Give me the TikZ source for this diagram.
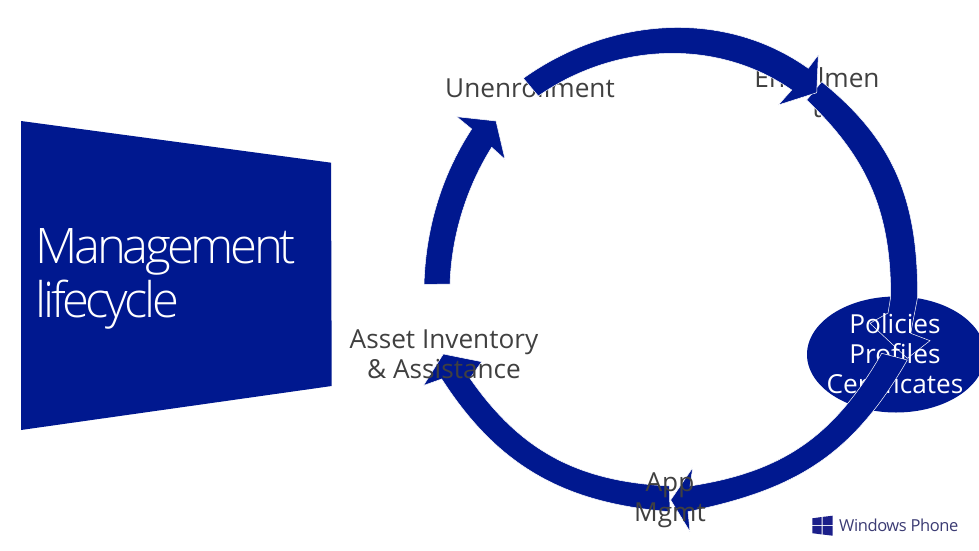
\documentclass[tikz,border=0pt]{standalone}
\usepackage{fontspec}
\setmainfont{Open Sans}
\newfontfamily\titlefont[LetterSpace=-7]{Open Sans Light}
\newfontfamily\wpfont[LetterSpace=-2.5]{Open Sans}
\definecolor{wpnavy}{HTML}{00188F}
\definecolor{labelgray}{HTML}{404040}
\definecolor{logoblue}{HTML}{1B1F8A}
\definecolor{logotext}{HTML}{3B3B73}
\tikzset{
  ringarrow/.style={fill=wpnavy,draw=white,line width=0.5pt,line join=miter},
  ringlabel/.style={text=labelgray,align=center,inner sep=0pt,font=\fontsize{26.2}{30}\selectfont},
  whitelabel/.style={text=white,align=center,inner sep=0pt,font=\fontsize{26.2}{30}\selectfont},
  titletext/.style={text=white,align=left,inner sep=0pt,anchor=west,font=\titlefont\fontsize{49}{54.5}\selectfont}
}
\begin{document}
\begin{tikzpicture}[x=1pt,y=-1pt]
\useasboundingbox (0,0) rectangle (979,551);
% title panel
\fill[wpnavy] (21,121) -- (331,162.7) -- (331.7,386) -- (21,430) -- cycle;
\node[titletext] (title) at (35.5,279) {Management\\lifecycle};
% labels lying under the arrows
\node[ringlabel] (unenroll) at (530,88) {Unenrollment};
\node[ringlabel] (enroll) at (817,93) {Enrollmen\\t};
% policies ellipse
\fill[wpnavy] (896,354.5) ellipse [x radius=89,y radius=-58];
% left arc
\path[ringarrow] (424,284.5) .. controls (425.6,229.5) and (441,176) .. (471.7,129)
  -- (456.7,116.7) -- (496,121) -- (505,159.3) -- (491.7,147.3)
  .. controls (466.3,188) and (451.5,236) .. (450,284) -- cycle;
% right arc
\path[ringarrow] (821.7,81.7) .. controls (895.8,141.5) and (917.7,201.7) .. (917.7,296.7)
  -- (910.7,333.3) -- (930,340.7) -- (907.3,358.3) -- (870,323.3) -- (888,313) -- (890.7,296.7)
  .. controls (890.7,211.7) and (867.9,158.7) .. (806.7,100) -- cycle;
% top arc
\path[ringarrow] (523.3,78.3) .. controls (608,17.6) and (723,7.6) .. (808.3,68.3)
  -- (818.3,55) -- (816.7,92.7) -- (778.3,105) -- (791.7,90)
  .. controls (715.9,37.3) and (614,43.3) .. (538.3,96) -- cycle;
% text of the ellipse lies over the right arc, under the lower-right arc
\node[whitelabel] (policies) at (895,354) {Policies\\Profiles\\Certificates};
% lower-right arc
\path[ringarrow] (907.3,360) .. controls (852.3,455.7) and (795.8,489.7) .. (688,511.7)
  -- (690,531.7) -- (670.7,500) -- (692.7,467.7) -- (690,486)
  .. controls (783.1,471.8) and (834.2,436) .. (881.7,353.3) -- cycle;
% lower-left arc
\path[ringarrow] (670,511.7) .. controls (565.3,503.3) and (498.4,467.2) .. (441.7,379)
  -- (423.5,385.5) -- (443.3,354) -- (481.7,361.7) -- (470,378.3)
  .. controls (521.3,452.1) and (579.3,481.5) .. (669.3,486) -- cycle;
% labels lying over the arrows
\node[ringlabel] (asset) at (444,354) {Asset Inventory\\\& Assistance};
\node[ringlabel] (app) at (670,500) {App\\Mgmt};
% Windows Phone logo
\fill[logoblue] (812.3,518.3) -- (821.6,517) -- (821.6,525.2) -- (812.3,525.2) -- cycle;
\fill[logoblue] (822.6,516.9) -- (832.7,515.7) -- (832.7,525.2) -- (822.6,525.2) -- cycle;
\fill[logoblue] (812.3,526.2) -- (821.6,526.2) -- (821.6,534.4) -- (812.3,533.2) -- cycle;
\fill[logoblue] (822.6,526.2) -- (832.7,526.2) -- (832.7,535.7) -- (822.6,534.5) -- cycle;
\node[text=logotext,anchor=base west,inner sep=0pt,font=\wpfont\fontsize{16.5}{20}\selectfont] (wp) at (839,531.5) {Windows Phone};
\end{tikzpicture}
\end{document}
